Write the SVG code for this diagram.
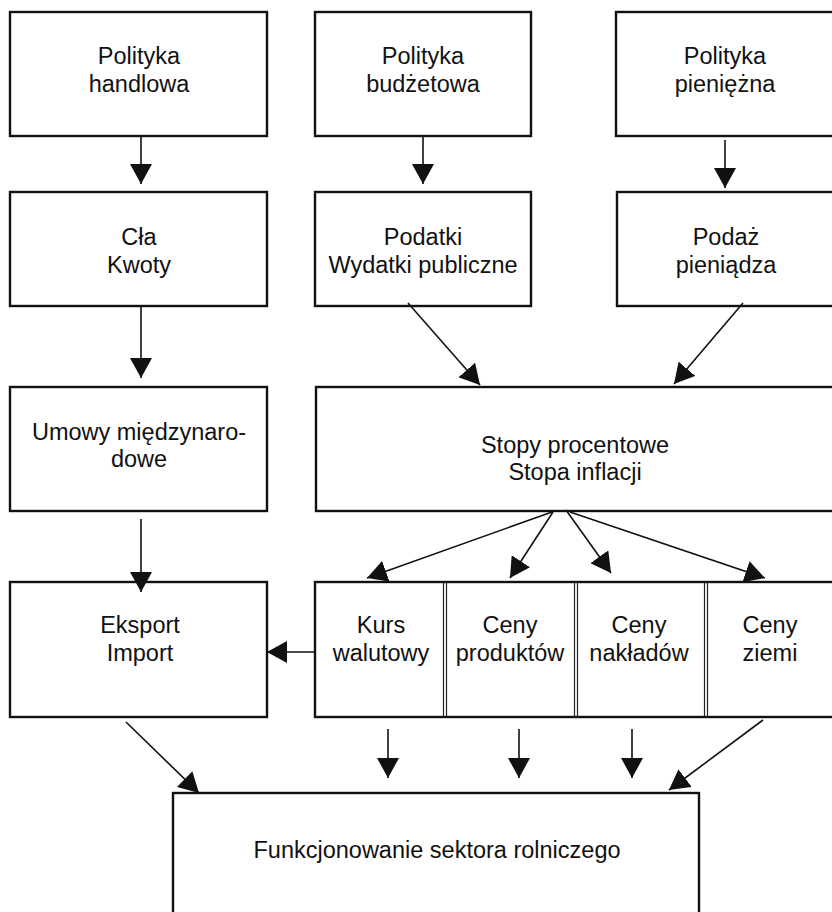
<svg xmlns="http://www.w3.org/2000/svg" width="832" height="912" viewBox="0 0 832 912">
<style>
.box{fill:#fff;stroke:#111;stroke-width:2.4}
.div{stroke:#222;stroke-width:1.2;fill:none}
.t{font-family:"Liberation Sans",Arial,sans-serif;font-size:23.5px;fill:#111;text-anchor:middle}
.c{stroke:#111;stroke-width:1.6;fill:none;marker-end:url(#ah)}
</style>
<defs>
<marker id="ah" markerUnits="userSpaceOnUse" markerWidth="21" markerHeight="22" refX="20" refY="11" orient="auto" viewBox="0 0 21 22">
<path d="M0,0 L20,11 L0,22 Z" fill="#111"/>
</marker>
</defs>
<rect width="832" height="912" fill="#fff"/>
<g id="n1"><rect class="box" x="10" y="12" width="257" height="124"/><text class="t" x="139" y="64">Polityka</text><text class="t" x="139" y="92">handlowa</text></g>
<g id="n2"><rect class="box" x="315" y="12" width="216" height="124"/><text class="t" x="423" y="64">Polityka</text><text class="t" x="423" y="92">budżetowa</text></g>
<g id="n3"><rect class="box" x="616" y="12" width="224" height="124"/><text class="t" x="725" y="64">Polityka</text><text class="t" x="725" y="92">pieniężna</text></g>
<g id="n4"><rect class="box" x="10" y="192" width="257" height="114"/><text class="t" x="139" y="245">Cła</text><text class="t" x="139" y="273">Kwoty</text></g>
<g id="n5"><rect class="box" x="315" y="192" width="216" height="114"/><text class="t" x="423" y="245">Podatki</text><text class="t" x="423" y="273">Wydatki publiczne</text></g>
<g id="n6"><rect class="box" x="617" y="192" width="223" height="114"/><text class="t" x="726" y="245">Podaż</text><text class="t" x="726" y="273">pieniądza</text></g>
<g id="n7"><rect class="box" x="10" y="387" width="257" height="124"/><text class="t" x="139" y="440">Umowy międzynaro-</text><text class="t" x="139" y="467">dowe</text></g>
<g id="n8"><rect class="box" x="316" y="387" width="524" height="124"/><text class="t" x="575" y="453">Stopy procentowe</text><text class="t" x="575" y="480">Stopa inflacji</text></g>
<g id="n9"><rect class="box" x="10" y="582" width="257" height="135"/><text class="t" x="140" y="633">Eksport</text><text class="t" x="140" y="661">Import</text></g>
<g id="n10"><rect class="box" x="315" y="582" width="525" height="135"/>
<line class="div" x1="443.5" y1="583" x2="443.5" y2="716"/><line class="div" x1="446.5" y1="583" x2="446.5" y2="716"/>
<line class="div" x1="574.5" y1="583" x2="574.5" y2="716"/><line class="div" x1="577.5" y1="583" x2="577.5" y2="716"/>
<line class="div" x1="704.5" y1="583" x2="704.5" y2="716"/><line class="div" x1="707.5" y1="583" x2="707.5" y2="716"/>
<text class="t" x="381" y="633">Kurs</text><text class="t" x="381" y="661">walutowy</text>
<text class="t" x="510" y="633">Ceny</text><text class="t" x="510" y="661">produktów</text>
<text class="t" x="639" y="633">Ceny</text><text class="t" x="639" y="661">nakładów</text>
<text class="t" x="770" y="633">Ceny</text><text class="t" x="770" y="661">ziemi</text></g>
<g id="n11"><rect class="box" x="173" y="793" width="526" height="130"/><text class="t" x="437" y="858">Funkcjonowanie sektora rolniczego</text></g>
<g id="connectors">
<line class="c" x1="141" y1="137" x2="141" y2="184"/>
<line class="c" x1="423" y1="137" x2="423" y2="184"/>
<line class="c" x1="725" y1="140" x2="725" y2="188"/>
<line class="c" x1="141" y1="307" x2="141" y2="378"/>
<line class="c" x1="408" y1="303" x2="480" y2="385"/>
<line class="c" x1="743" y1="303" x2="674" y2="384"/>
<line class="c" x1="141" y1="519" x2="141" y2="592"/>
<line class="c" x1="552" y1="512" x2="367" y2="578"/>
<line class="c" x1="553" y1="512" x2="510" y2="578"/>
<line class="c" x1="566" y1="510" x2="611" y2="573"/>
<line class="c" x1="570" y1="512" x2="765" y2="578"/>
<line class="c" x1="315" y1="652" x2="267" y2="652"/>
<line class="c" x1="126" y1="722" x2="199" y2="793"/>
<line class="c" x1="388" y1="729" x2="388" y2="778"/>
<line class="c" x1="519" y1="729" x2="519" y2="778"/>
<line class="c" x1="632" y1="729" x2="632" y2="778"/>
<line class="c" x1="763" y1="720" x2="669" y2="790"/>
</g>
</svg>
